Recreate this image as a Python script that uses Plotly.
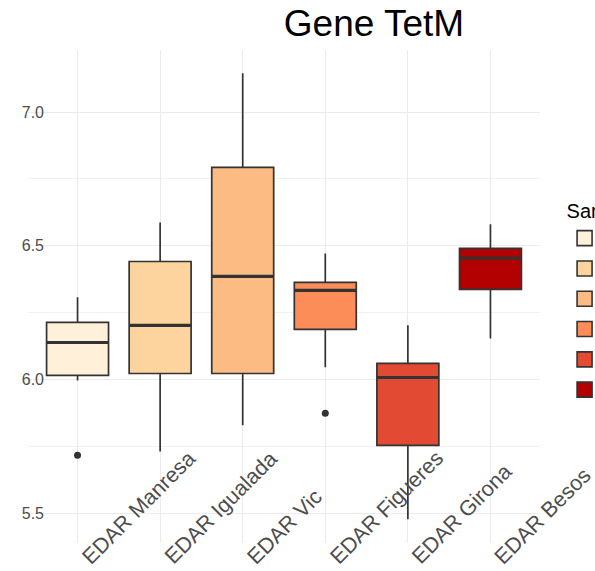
import plotly.graph_objects as go

# Sample sites and per-site summary statistics of the TetM gene measurements
categories = ["EDAR Manresa", "EDAR Igualada", "EDAR Vic",
              "EDAR Figueres", "EDAR Girona", "EDAR Besos"]
lower_whisker = [5.996, 5.730, 5.828, 6.045, 5.477, 6.153]
q1 = [6.015, 6.022, 6.022, 6.187, 5.753, 6.337]
median = [6.138, 6.202, 6.385, 6.333, 6.007, 6.453]
q3 = [6.213, 6.441, 6.793, 6.363, 6.060, 6.490]
upper_whisker = [6.307, 6.587, 7.145, 6.471, 6.202, 6.580]

# Points lying beyond the whiskers
outlier_site = ["EDAR Manresa", "EDAR Figueres"]
outlier_value = [5.716, 5.873]

# OrRd palette, one fill per site
fill_colors = ["#FEF0D9", "#FDD49E", "#FDBB84", "#FC8D59", "#E34A33", "#B30000"]

y_ticks = [5.5, 6.0, 6.5, 7.0]
y_tick_text = ["5.5", "6.0", "6.5", "7.0"]

FONT = "Liberation Sans, Arial, sans-serif"
INK = "#333333"
BOX_WIDTH = 0.75

fig = go.Figure()

for i, name in enumerate(categories):
    fig.add_trace(go.Box(
        x=[i],
        q1=[q1[i]], median=[median[i]], q3=[q3[i]],
        lowerfence=[lower_whisker[i]], upperfence=[upper_whisker[i]],
        name=name, legendgroup=name, showlegend=False,
        width=BOX_WIDTH,
        whiskerwidth=0,
        boxpoints=False,
        fillcolor=fill_colors[i],
        line=dict(color=INK, width=1.7),
        hoverinfo="skip",
    ))

# Thicker median bars drawn over each box
mx, my = [], []
for i, m in enumerate(median):
    mx += [i - BOX_WIDTH / 2, i + BOX_WIDTH / 2, None]
    my += [m, m, None]
fig.add_trace(go.Scatter(x=mx, y=my, mode="lines",
                         line=dict(color=INK, width=3.2),
                         showlegend=False, hoverinfo="skip"))

# Outlying observations
fig.add_trace(go.Scatter(
    x=[categories.index(s) for s in outlier_site], y=outlier_value,
    mode="markers", marker=dict(color=INK, size=7),
    showlegend=False, hoverinfo="skip"))

# Legend keys: one filled square per site, grouped with its box
for i, name in enumerate(categories):
    fig.add_trace(go.Scatter(
        x=[None], y=[None], mode="markers", name=name, legendgroup=name,
        marker=dict(symbol="square", size=15, color=fill_colors[i],
                    line=dict(color=INK, width=1.6)),
        hoverinfo="skip",
    ))

# Site labels, rotated and rising from each tick
annotations = []
for i, name in enumerate(categories):
    annotations.append(dict(
        x=i, xref="x", y=-0.058, yref="paper",
        text=name, showarrow=False, textangle=-45,
        xanchor="left", yanchor="bottom", xshift=-3,
        font=dict(family=FONT, size=21.5, color="#4D4D4D"),
    ))

fig.update_layout(
    width=595, height=571,
    margin=dict(l=28, r=55, t=50, b=28, autoexpand=False),
    paper_bgcolor="white", plot_bgcolor="white",
    font=dict(family=FONT),
    title=dict(text="Gene TetM", x=374 / 595, xref="container",
               xanchor="center", y=0.96, yref="container", yanchor="middle",
               font=dict(family=FONT, size=37, color="black")),
    showlegend=True,
    legend=dict(
        x=1.048, xanchor="left", y=0.712, yanchor="top",
        tracegroupgap=0,
        title=dict(text="Sample", font=dict(family=FONT, size=20, color="black")),
        font=dict(family=FONT, size=21, color="#333333"),
        bgcolor="rgba(0,0,0,0)", itemclick=False, itemdoubleclick=False,
    ),
    xaxis=dict(
        range=[-0.6, len(categories) - 0.4],
        tickvals=list(range(len(categories))),
        showticklabels=False, ticks="",
        showgrid=True, gridcolor="#EBEBEB", gridwidth=1.3,
        zeroline=False, showline=False,
    ),
    yaxis=dict(
        range=[5.388, 7.232],
        tickvals=y_ticks, ticktext=y_tick_text,
        tickfont=dict(family=FONT, size=16, color="#4D4D4D"),
        ticks="", ticklabelstandoff=-17,
        showgrid=True, gridcolor="#EBEBEB", gridwidth=1.3,
        minor=dict(dtick=0.25, tick0=5.25, showgrid=True,
                   gridcolor="#F2F2F2", gridwidth=1),
        zeroline=False, showline=False,
    ),
    annotations=annotations,
)

fig.write_html("out.html")
